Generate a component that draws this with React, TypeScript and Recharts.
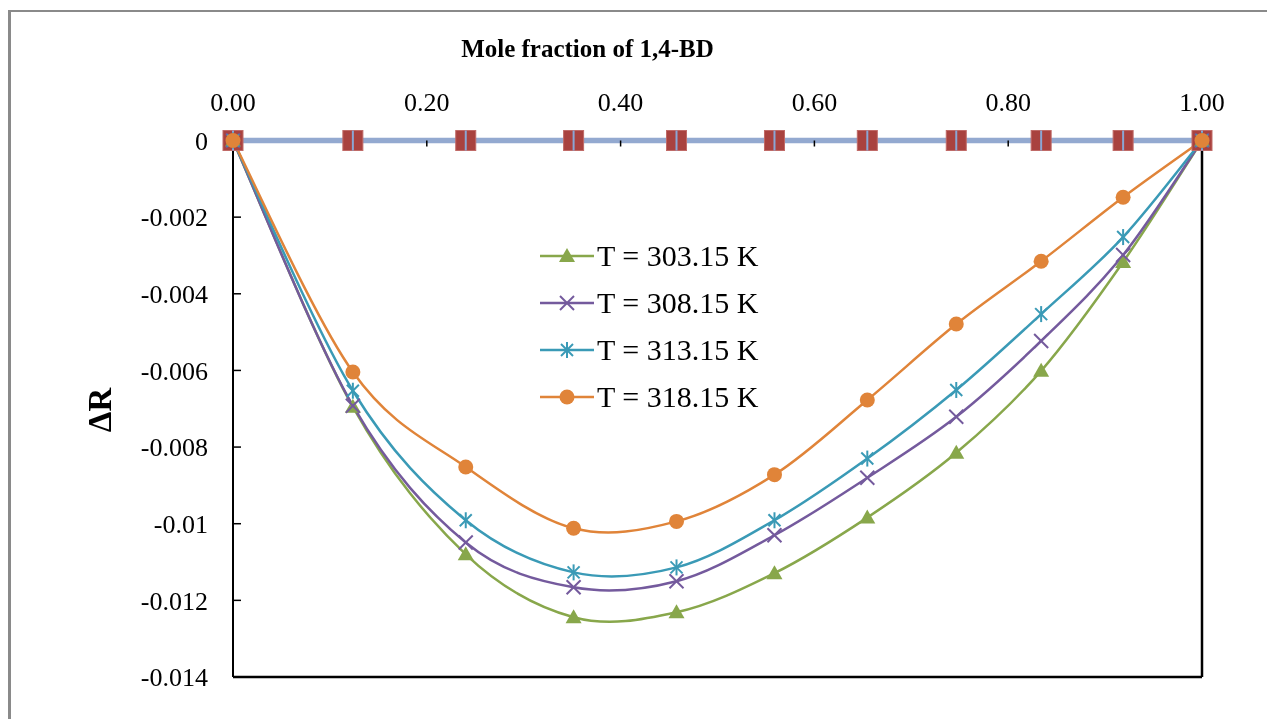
import React from "react";
import {
  LineChart,
  Line,
  XAxis,
  YAxis,
  Legend,
  ReferenceLine,
} from "recharts";

const FONT = '"Liberation Serif", "Times New Roman", serif';

// mole fraction of 1,4-BD
const moleFraction = [0, 0.1237, 0.2402, 0.3515, 0.4577, 0.5588, 0.6546, 0.7464, 0.834, 0.9186, 1];

// two helper series sitting on the zero line
const baseSquares = [0, 0, 0, 0, 0, 0, 0, 0, 0, 0, 0];
const baseLine = [0, 0, 0, 0, 0, 0, 0, 0, 0, 0, 0];

const t30315 = [0, -0.00695, -0.0108, -0.01244, -0.01231, -0.01129, -0.00984, -0.00815, -0.00601, -0.00317, 0];
const t30815 = [0, -0.00692, -0.01049, -0.01166, -0.0115, -0.0103, -0.0088, -0.00721, -0.00523, -0.00299, 0];
const t31315 = [0, -0.00653, -0.00991, -0.01127, -0.01114, -0.00991, -0.0083, -0.00651, -0.00453, -0.00252, 0];
const t31815 = [0, -0.00604, -0.00852, -0.01012, -0.00994, -0.00872, -0.00677, -0.00479, -0.00315, -0.00148, 0];

const xTicks = [0, 0.2, 0.4, 0.6, 0.8, 1];
const yTicks = [0, -0.002, -0.004, -0.006, -0.008, -0.01, -0.012, -0.014];

const series = [
  { key: "t303", name: "T = 303.15 K", color: "#88A74B", marker: "triangle" },
  { key: "t308", name: "T = 308.15 K", color: "#745A9D", marker: "x" },
  { key: "t313", name: "T = 313.15 K", color: "#3A9AB6", marker: "star" },
  { key: "t318", name: "T = 318.15 K", color: "#E08439", marker: "circle" },
];

const data = moleFraction.map((x, i) => ({
  x,
  sq: baseSquares[i],
  base: baseLine[i],
  t303: t30315[i],
  t308: t30815[i],
  t313: t31315[i],
  t318: t31815[i],
}));

// excel-like smoothed line (catmull-rom through the points)
function smoothCurve(context: any) {
  let pts: [number, number][] = [];
  return {
    areaStart() {},
    areaEnd() {},
    lineStart() {
      pts = [];
    },
    lineEnd() {
      if (!pts.length) return;
      context.moveTo(pts[0][0], pts[0][1]);
      for (let i = 0; i < pts.length - 1; i++) {
        const p0 = pts[Math.max(i - 1, 0)];
        const p1 = pts[i];
        const p2 = pts[i + 1];
        const p3 = pts[Math.min(i + 2, pts.length - 1)];
        context.bezierCurveTo(
          p1[0] + (p2[0] - p0[0]) / 6,
          p1[1] + (p2[1] - p0[1]) / 6,
          p2[0] - (p3[0] - p1[0]) / 6,
          p2[1] - (p3[1] - p1[1]) / 6,
          p2[0],
          p2[1]
        );
      }
    },
    point(x: number, y: number) {
      pts.push([x, y]);
    },
  };
}

function Marker({ kind, cx, cy, color }: { kind: string; cx: number; cy: number; color: string }) {
  if (kind === "triangle") {
    return (
      <polygon
        points={`${cx},${cy - 8} ${cx + 8},${cy + 6} ${cx - 8},${cy + 6}`}
        fill={color}
      />
    );
  }
  if (kind === "x") {
    return (
      <g stroke={color} strokeWidth={2}>
        <line x1={cx - 7} y1={cy - 7} x2={cx + 7} y2={cy + 7} />
        <line x1={cx - 7} y1={cy + 7} x2={cx + 7} y2={cy - 7} />
      </g>
    );
  }
  if (kind === "star") {
    return (
      <g stroke={color} strokeWidth={2}>
        <line x1={cx - 6} y1={cy - 6} x2={cx + 6} y2={cy + 6} />
        <line x1={cx - 6} y1={cy + 6} x2={cx + 6} y2={cy - 6} />
        <line x1={cx} y1={cy - 8} x2={cx} y2={cy + 8} />
      </g>
    );
  }
  return <circle cx={cx} cy={cy} r={7.5} fill={color} />;
}

function LegendBox() {
  return (
    <div style={{ fontFamily: FONT, fontSize: 30, color: "#000" }}>
      {series.map((s) => (
        <div key={s.key} style={{ display: "flex", alignItems: "center", height: 47 }}>
          <svg width={57} height={24} style={{ display: "block" }}>
            <line x1={0} y1={12} x2={54} y2={12} stroke={s.color} strokeWidth={2.5} />
            <Marker kind={s.marker} cx={27} cy={12} color={s.color} />
          </svg>
          <span style={{ whiteSpace: "nowrap", lineHeight: "30px" }}>{s.name}</span>
        </div>
      ))}
    </div>
  );
}

export default function App() {
  return (
    <div style={{ position: "relative", width: 1251, height: 703 }}>
      <div
        style={{
          position: "fixed",
          left: 8,
          top: 10,
          right: 0,
          bottom: 0,
          borderLeft: "3px solid #8a8a8a",
          borderTop: "2px solid #8a8a8a",
          pointerEvents: "none",
        }}
      />
      <LineChart
        width={1251}
        height={703}
        data={data}
        margin={{ top: 72.5, right: 57, bottom: 34, left: 105 }}
        style={{ position: "absolute", left: 0, top: 0 }}
      >
        <XAxis
          dataKey="x"
          type="number"
          orientation="top"
          domain={[0, 1]}
          ticks={xTicks}
          tickFormatter={(v: number) => v.toFixed(2)}
          height={60}
          tickSize={-6}
          tickMargin={35.5}
          axisLine={false}
          tickLine={{ stroke: "#000", strokeWidth: 1.5 }}
          tick={{ fill: "#000", fontSize: 26, fontFamily: FONT }}
          label={{
            content: () => (
              <text
                x={579.5}
                y={49}
                textAnchor="middle"
                fontFamily={FONT}
                fontWeight="bold"
                fontSize={25}
                fill="#000"
              >
                Mole fraction of 1,4-BD
              </text>
            ),
          }}
        />
        <YAxis
          type="number"
          domain={[-0.014, 0]}
          ticks={yTicks}
          tickFormatter={(v: number) => (v === 0 ? "0" : String(v))}
          width={120}
          tickSize={-8}
          tickMargin={33}
          axisLine={{ stroke: "#000", strokeWidth: 2 }}
          tickLine={{ stroke: "#000", strokeWidth: 1.5 }}
          tick={{ fill: "#000", fontSize: 26, fontFamily: FONT }}
          label={{
            content: () => (
              <text
                x={92}
                y={402}
                transform="rotate(-90 92 402)"
                textAnchor="middle"
                dominantBaseline="central"
                fontFamily={FONT}
                fontWeight="bold"
                fontSize={33}
                fill="#000"
              >
                ΔR
              </text>
            ),
          }}
        />
        <ReferenceLine y={-0.014} stroke="#000" strokeWidth={2.5} />
        <ReferenceLine x={1} stroke="#000" strokeWidth={2.5} />
        <Legend
          layout="vertical"
          align="center"
          verticalAlign="middle"
          wrapperStyle={{ left: 532, top: 224.5, width: "auto" }}
          content={() => <LegendBox />}
        />
        <Line
          dataKey="sq"
          stroke="none"
          isAnimationActive={false}
          dot={(p: any) => (
            <rect
              key={`sq-${p.index}`}
              x={p.cx - 10}
              y={p.cy - 10}
              width={20}
              height={20}
              fill="#A9423F"
              stroke="#C06A67"
              strokeWidth={1}
            />
          )}
        />
        <Line
          dataKey="base"
          stroke="#93A9D0"
          strokeWidth={5.5}
          isAnimationActive={false}
          dot={(p: any) => (
            <line
              key={`pl-${p.index}`}
              x1={p.cx}
              y1={p.cy - 10}
              x2={p.cx}
              y2={p.cy + 10}
              stroke="#8AA6D4"
              strokeWidth={2}
            />
          )}
        />
        {series.map((s) => (
          <Line
            key={s.key}
            dataKey={s.key}
            name={s.name}
            type={smoothCurve as any}
            stroke={s.color}
            strokeWidth={2.5}
            isAnimationActive={false}
            dot={(p: any) => (
              <Marker key={`${s.key}-${p.index}`} kind={s.marker} cx={p.cx} cy={p.cy} color={s.color} />
            )}
          />
        ))}
      </LineChart>
    </div>
  );
}
